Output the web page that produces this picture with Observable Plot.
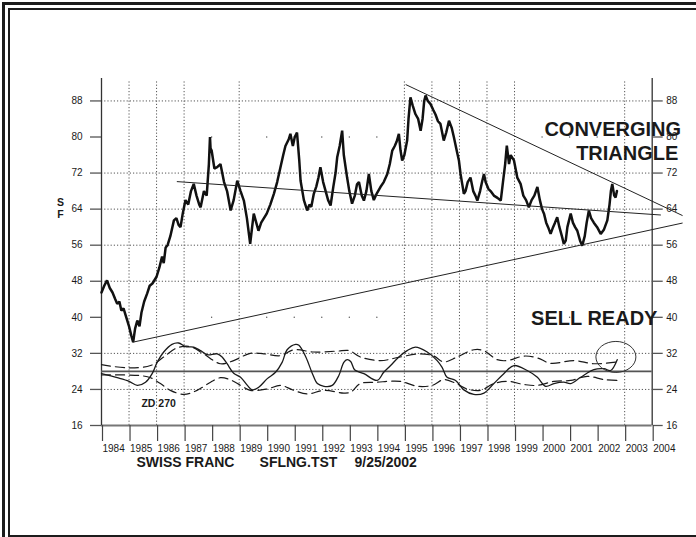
<!DOCTYPE html>
<html><head><meta charset="utf-8">
<script src="https://cdn.jsdelivr.net/npm/d3@7"></script>
<script src="https://cdn.jsdelivr.net/npm/@observablehq/plot@0.6"></script>
<style>
html,body{margin:0;padding:0;background:#fff;}
#wrap{position:relative;width:696px;height:537px;overflow:hidden;background:#fff;}
#wrap svg{position:absolute;left:0;top:0;}
.b{position:absolute;background:#1c1c1c;}
</style></head><body><div id="wrap"></div>
<script>
// ---- data ----
const yearTicks = [1984,1985,1986,1987,1988,1989,1990,1991,1992,1993,1994,1995,1996,1997,1998,1999,2000,2001,2002,2003,2004];
const valueTicks = [16,24,32,40,48,56,64,72,80,88];
const gridYears = [1985,1986,1987,1989,1995,1996,1997,1998,1999,2003];
const gridValues = [24,32,48,56,64,72,88];
const stubYears = [1988,1990,1991,1992,1993,1994,2000,2001,2002];
const stubValues = [40,80];

const priceYears = [1984.00,1984.10,1984.20,1984.30,1984.40,1984.50,1984.57,1984.65,1984.72,1984.80,1984.90,1985.00,1985.08,1985.15,1985.22,1985.30,1985.38,1985.45,1985.55,1985.66,1985.75,1985.85,1986.00,1986.10,1986.20,1986.26,1986.33,1986.40,1986.50,1986.63,1986.72,1986.80,1986.87,1986.95,1987.05,1987.15,1987.25,1987.35,1987.45,1987.55,1987.60,1987.72,1987.82,1987.90,1987.94,1987.96,1988.00,1988.10,1988.20,1988.32,1988.45,1988.56,1988.69,1988.80,1988.93,1989.05,1989.17,1989.28,1989.40,1989.47,1989.53,1989.62,1989.70,1989.80,1989.90,1990.00,1990.13,1990.26,1990.38,1990.50,1990.60,1990.68,1990.80,1990.86,1990.95,1991.02,1991.10,1991.18,1991.23,1991.35,1991.47,1991.55,1991.62,1991.71,1991.80,1991.88,1991.95,1992.05,1992.14,1992.23,1992.32,1992.42,1992.50,1992.56,1992.65,1992.74,1992.80,1992.92,1993.00,1993.10,1993.20,1993.28,1993.35,1993.45,1993.53,1993.62,1993.71,1993.80,1993.89,1994.00,1994.13,1994.25,1994.38,1994.47,1994.56,1994.65,1994.72,1994.80,1994.86,1994.92,1995.00,1995.10,1995.15,1995.22,1995.30,1995.40,1995.50,1995.59,1995.66,1995.72,1995.77,1995.85,1995.95,1996.05,1996.13,1996.22,1996.31,1996.43,1996.52,1996.62,1996.72,1996.80,1996.90,1996.98,1997.04,1997.10,1997.16,1997.22,1997.30,1997.40,1997.50,1997.58,1997.65,1997.75,1997.82,1997.89,1997.95,1998.05,1998.13,1998.25,1998.38,1998.50,1998.58,1998.66,1998.72,1998.80,1998.86,1998.98,1999.10,1999.22,1999.32,1999.42,1999.52,1999.62,1999.72,1999.83,1999.92,2000.00,2000.07,2000.15,2000.22,2000.31,2000.40,2000.47,2000.55,2000.63,2000.72,2000.79,2000.86,2000.92,2001.04,2001.12,2001.20,2001.28,2001.38,2001.46,2001.55,2001.62,2001.70,2001.78,2001.88,2002.00,2002.13,2002.25,2002.37,2002.45,2002.50,2002.55,2002.62,2002.67,2002.72];
const priceValues = [45.5,47,48.2,46.5,45.5,44,43,43.5,41.5,42,40,38,36,34.5,37.5,39.3,38,41,43.5,45.3,47,47.5,49,51,53.5,52,55.5,56,58,61.5,62,60.5,60,63,66,65,68,69.6,67,65,64.4,68,67,74,80,77.5,77,73,73.3,74,70,68,63.7,66,70.3,68,65.9,62,56.3,60,63,61,59.2,61,62,63,65,67.4,70,73.3,76,78,79.5,80.7,78,80,81,75,70.3,66,63.7,65,64.5,67.4,69,71,73.3,70,68,66,64.8,69,72,75.5,78,81.4,76,71,68,65.2,67,69.5,70,67,65.9,68,71.8,68,66,67.5,68.9,70,71.8,74,77,78,79,80.7,77,74.8,76,79.2,84,88.8,87,85.1,84,81.4,84,88,89.2,88,87.3,86,85,83.5,82.9,79.2,81,83.6,82,79.9,77,74.8,71.8,69.6,67.4,68,70,71,68,67,65.9,68,70,71.8,70,68.5,68,67,66.5,65.9,70,74,78.1,74,76,74.8,71,69.6,67,66,64.4,66,67,68.9,66,64,63,61,60,58.5,60,61,62.2,60,58,56.3,57,60,63,61,60,59.2,57,55.9,58,61,63.7,62,61,60,58.5,59.5,61.5,65,68,69.6,67,66.6,68];

const oscYears = [1984.00,1984.57,1985.00,1985.30,1985.60,1985.84,1986.02,1986.26,1986.56,1986.80,1987.05,1987.35,1987.60,1987.84,1988.20,1988.38,1988.56,1988.80,1989.05,1989.30,1989.47,1989.71,1990.02,1990.32,1990.56,1990.74,1991.05,1991.17,1991.42,1991.66,1991.84,1992.08,1992.38,1992.62,1992.80,1992.92,1993.05,1993.20,1993.53,1994.01,1994.25,1994.50,1994.80,1995.10,1995.40,1995.83,1996.19,1996.37,1996.55,1996.86,1997.16,1997.52,1997.89,1998.25,1998.61,1998.98,1999.46,1999.83,2000.13,2000.43,2000.79,2001.04,2001.40,2001.88,2002.25,2002.49,2002.73];
const oscValues = [27.5,26.6,25.8,24.9,25.6,27.5,30.0,32.3,34.0,34.3,33.5,33.4,32.6,31.7,31.9,31.2,29.7,27.6,26.7,24.9,23.9,24.5,26.4,27.8,30.0,32.8,34.0,33.8,31.2,27.5,25.3,24.7,24.9,27.1,30.0,30.6,30.2,28.3,27.5,26.0,27.8,29.3,31.2,32.6,33.4,32.3,30.4,28.9,26.7,26.0,23.9,22.9,23.2,25.3,27.5,29.3,28.2,26.7,24.7,25.3,25.6,25.3,26.7,28.4,28.6,28.2,30.6];

const upperBandYears = [1984.00,1984.93,1985.78,1986.26,1986.74,1987.23,1987.71,1988.32,1988.80,1989.40,1989.90,1990.50,1990.98,1991.71,1992.56,1993.00,1993.40,1994.13,1994.85,1995.58,1996.07,1996.43,1996.92,1997.52,1997.89,1998.37,1998.74,1999.34,1999.83,2000.31,2001.16,2001.88,2002.73];
const upperBandValues = [29.5,28.8,29.3,31.2,33.2,33.5,31.9,29.7,30.4,32.0,31.9,31.5,32.8,32.3,32.5,32.6,31.2,30.4,31.2,31.9,31.4,30.1,31.2,32.8,32.6,30.6,30.4,31.4,31.0,29.8,30.4,29.7,30.1];
const lowerBandYears = [1984.00,1985.00,1985.50,1985.78,1986.14,1986.50,1987.00,1987.47,1987.96,1988.32,1988.69,1989.05,1989.40,1990.02,1990.50,1990.98,1991.47,1992.08,1992.80,1993.05,1993.40,1994.00,1994.85,1995.46,1996.01,1996.43,1996.85,1997.28,1997.77,1998.25,1998.74,1999.34,1999.83,2000.43,2001.04,2001.64,2002.25,2002.73];
const lowerBandValues = [27.2,27.2,27.0,26.6,25.3,23.8,22.9,23.8,25.6,26.6,26.1,24.9,23.8,24.1,24.9,23.8,23.0,23.8,23.2,23.4,25.3,25.6,25.8,24.7,24.9,26.2,25.4,24.1,23.8,25.3,25.8,25.1,24.9,25.8,26.0,26.9,26.2,26.0];
const oscMidline = [28];

const trendUpperYears = [1995.06, 2005.09];
const trendUpperValues = [91.6, 62.6];
const trendMiddleYears = [1986.75, 2004.30];
const trendMiddleValues = [70.1, 62.7];
const trendLowerYears = [1985.15, 2005.09];
const trendLowerValues = [34.5, 60.9];

// annotation texts, anchored in data units (year, SF value)
const bigNotes = [
  {text: "CONVERGING", year: 2005.05, value: 80.3},
  {text: "TRIANGLE", year: 2004.95, value: 75.0},
  {text: "SELL READY", year: 2004.19, value: 38.2}
];
const footNotes = [
  {text: "SWISS FRANC", year: 1985.27, value: 6.7},
  {text: "SFLNG.TST", year: 1989.74, value: 6.7},
  {text: "9/25/2002", year: 1993.19, value: 6.7}
];
const zdNote = [{text: "ZD 270", year: 1985.45, value: 20.0}];
const axisNote = [{text: "S", year: 1982.51, value: 64.6}, {text: "F", year: 1982.51, value: 62.1}];
const circleCenter = {year: 2002.70, value: 31.1};

// ---- build tables ----
const zip = (xs, ys) => xs.map((x, i) => ({x, y: ys[i]}));
const price = zip(priceYears, priceValues);
const osc = zip(oscYears, oscValues);
const upperBand = zip(upperBandYears, upperBandValues);
const lowerBand = zip(lowerBandYears, lowerBandValues);
const trends = [
  ...zip(trendUpperYears, trendUpperValues).map(d => ({...d, k: "u"})),
  ...zip(trendMiddleYears, trendMiddleValues).map(d => ({...d, k: "m"})),
  ...zip(trendLowerYears, trendLowerValues).map(d => ({...d, k: "l"}))
];
const stubs = stubYears.flatMap(x => stubValues.map(y => ({x, y})));
const ink = "#1a1a1a";
const font = "'Liberation Sans', Arial, Helvetica, sans-serif";

const chart = Plot.plot({
  width: 696, height: 537,
  marginLeft: 101, marginRight: 44.3, marginTop: 77.9, marginBottom: 112,
  x: {domain: [1984, 2004], axis: null},
  y: {domain: [16, 93], axis: null},
  style: {fontFamily: font, background: "transparent", color: ink, overflow: "visible"},
  marks: [
    Plot.ruleY(gridValues, {x1: 1984, x2: 2004, stroke: "#555", strokeWidth: 1, strokeDasharray: "1.2,2"}),
    Plot.ruleX(gridYears, {y1: 16, y2: 92.5, stroke: "#555", strokeWidth: 1, strokeDasharray: "1.2,2"}),
    Plot.dot(stubs, {x: "x", y: "y", r: 0.7, fill: "#555", stroke: null}),
    Plot.ruleY([16], {x1: 1984, x2: 2004, stroke: "#777", strokeWidth: 2}),
    Plot.ruleX([1984, 2004], {y1: 16, y2: 93, stroke: "#333", strokeWidth: 1.3}),
    Plot.axisY(valueTicks, {anchor: "left", tickSize: 11, tickPadding: 8, fontSize: 10, stroke: "#555", strokeWidth: 1.3, fill: ink, label: null}),
    Plot.axisY(valueTicks, {anchor: "right", tickSize: 10, tickPadding: 4, fontSize: 10, stroke: "#555", strokeWidth: 1.3, fill: ink, label: null}),
    Plot.axisX(yearTicks, {anchor: "bottom", tickSize: 16, tickPadding: 3, fontSize: 10, textAnchor: "start", dx: 1, stroke: "#444", strokeWidth: 1.2, fill: ink, label: null, tickFormat: d => String(d)}),
    Plot.ruleY(oscMidline, {x1: 1984, x2: 2004, stroke: "#555", strokeWidth: 1.8}),
    Plot.line(upperBand, {x: "x", y: "y", stroke: ink, strokeWidth: 1.2, strokeDasharray: "9,5", curve: "catmull-rom"}),
    Plot.line(lowerBand, {x: "x", y: "y", stroke: ink, strokeWidth: 1.2, strokeDasharray: "9,5", curve: "catmull-rom"}),
    Plot.line(osc, {x: "x", y: "y", stroke: ink, strokeWidth: 1.3, curve: "catmull-rom"}),
    Plot.line(price, {x: "x", y: "y", stroke: "#111", strokeWidth: 2.5, strokeLinejoin: "miter"}),
    Plot.line(trends, {x: "x", y: "y", z: "k", stroke: "#222", strokeWidth: 1}),
    Plot.text(bigNotes, {x: "year", y: "value", text: "text", textAnchor: "end", lineAnchor: "bottom", fontSize: 20, fontWeight: "bold", fill: ink, letterSpacing: 0.4}),
    Plot.text(footNotes, {x: "year", y: "value", text: "text", textAnchor: "start", lineAnchor: "bottom", fontSize: 14, fontWeight: "bold", fill: ink}),
    Plot.text(zdNote, {x: "year", y: "value", text: "text", textAnchor: "start", lineAnchor: "bottom", fontSize: 10.5, fontWeight: "bold", fill: ink}),
    Plot.text(axisNote, {x: "year", y: "value", text: "text", textAnchor: "middle", lineAnchor: "bottom", fontSize: 10.5, fontWeight: "bold", fill: ink})
  ]
});

const sx = chart.scale("x"), sy = chart.scale("y");
d3.select(chart).append("ellipse")
  .attr("cx", sx.apply(circleCenter.year))
  .attr("cy", sy.apply(circleCenter.value))
  .attr("rx", 20).attr("ry", 15.5)
  .attr("fill", "none").attr("stroke", "#333").attr("stroke-width", 1);

const wrap = document.getElementById("wrap");
wrap.appendChild(chart);
// double frame round the page
const box = (l, t, w, h) => { const d = document.createElement("div"); d.className = "b"; Object.assign(d.style, {left: l + "px", top: t + "px", width: w + "px", height: h + "px"}); wrap.appendChild(d); };
box(2, 2, 694, 3);
box(2, 2, 3, 535);
box(8, 8, 688, 1.6);
box(8, 8, 1.6, 529);
box(8, 535, 688, 2);
</script></body></html>
